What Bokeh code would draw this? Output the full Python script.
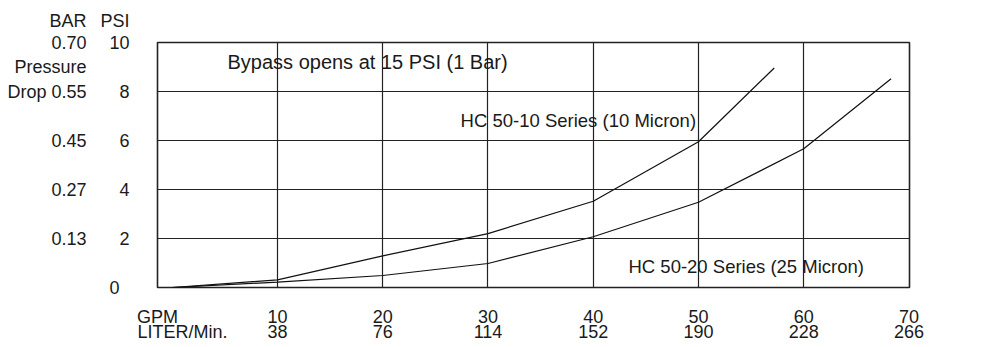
from bokeh.plotting import figure
from bokeh.models import FixedTicker, LinearAxis, Label, Range1d, Grid
from bokeh.embed import file_html
from bokeh.resources import INLINE

# ---- data ----
gpm_ticks = [10, 20, 30, 40, 50, 60, 70]
liter_labels = ["38", "76", "114", "152", "190", "228", "266"]
psi_ticks = [0, 2, 4, 6, 8, 10]
bar_ticks = [2, 4, 6, 8, 9, 10]
bar_labels = ["0.13", "0.27", "0.45", "Drop 0.55", "Pressure", "0.70"]

hc5010_gpm = [0, 10, 20, 30, 40, 50, 57.2]
hc5010_psi = [0, 0.31, 1.29, 2.2, 3.52, 5.95, 8.96]
hc5020_gpm = [0, 10, 20, 30, 40, 50, 60, 68.3]
hc5020_psi = [0, 0.22, 0.49, 0.98, 2.07, 3.48, 5.66, 8.52]

FONT = "Liberation Sans"
FS = "18px"
TC = "#1a1a1a"
NB = "\u00a0"
X0 = -1.4

p = figure(width=977, height=345, output_backend="svg", toolbar_location=None,
           x_range=Range1d(X0, 70.05), y_range=Range1d(0, 10),
           min_border_left=157, min_border_right=68, min_border_top=42, min_border_bottom=58,
           x_axis_type=None, y_axis_type=None)
p.background_fill_color = "white"
p.border_fill_color = "white"
p.outline_line_color = "#222222"
p.outline_line_width = 1.6
p.xgrid.visible = False
p.ygrid.visible = False

def style_axis(ax, standoff):
    ax.axis_line_color = None
    ax.major_tick_line_color = None
    ax.minor_tick_line_color = None
    ax.major_label_standoff = standoff
    ax.major_label_text_font = FONT
    ax.major_label_text_font_size = FS
    ax.major_label_text_color = TC

# bottom axis: GPM over LITER/Min., with the row captions at the frame's left edge
x_cap = X0 + 0.01
xax = LinearAxis(ticker=FixedTicker(ticks=[x_cap] + gpm_ticks))
ov = {t: f"{t}\n{l}" for t, l in zip(gpm_ticks, liter_labels)}
ov[x_cap] = "GPM\n" + NB * 10 + "LITER/Min."
xax.major_label_overrides = ov
style_axis(xax, 13)
xax.major_label_text_line_height = 0.75
p.add_layout(xax, "below")

# left axis PSI
yax = LinearAxis(ticker=FixedTicker(ticks=psi_ticks))
yax.major_label_overrides = {0: "0" + NB * 2, 10: "PSI\n10\n" + NB}
style_axis(yax, 22)
yax.major_label_text_line_height = 1.1
p.add_layout(yax, "left")

# left axis BAR (with the "Pressure Drop" caption)
bax = LinearAxis(ticker=FixedTicker(ticks=bar_ticks))
bov = {t: l for t, l in zip(bar_ticks, bar_labels)}
bov[10] = "BAR\n0.70\n" + NB
bax.major_label_overrides = bov
style_axis(bax, 5)
bax.major_label_text_line_height = 1.1
p.add_layout(bax, "left")

p.add_layout(Grid(dimension=0, ticker=FixedTicker(ticks=gpm_ticks[:-1]),
                  grid_line_color="#222222", grid_line_width=1.2))
p.add_layout(Grid(dimension=1, ticker=FixedTicker(ticks=psi_ticks[1:-1]),
                  grid_line_color="#222222", grid_line_width=1.2))

p.line(hc5010_gpm, hc5010_psi, line_color="#111111", line_width=1.2)
p.line(hc5020_gpm, hc5020_psi, line_color="#111111", line_width=1.2)

def lab(text, x, y, size):
    p.add_layout(Label(x=x, y=y, text=text,
                       text_font=FONT, text_font_size=size, text_color=TC,
                       text_align="left", text_baseline="middle"))

lab("Bypass opens at 15 PSI (1 Bar)", 5.25, 9.22, "20px")
lab("HC 50-10 Series (10 Micron)", 27.4, 6.82, "18.5px")
lab("HC 50-20 Series (25 Micron)", 43.35, 0.86, "18.5px")

open("out.html", "w").write(file_html(p, INLINE))
